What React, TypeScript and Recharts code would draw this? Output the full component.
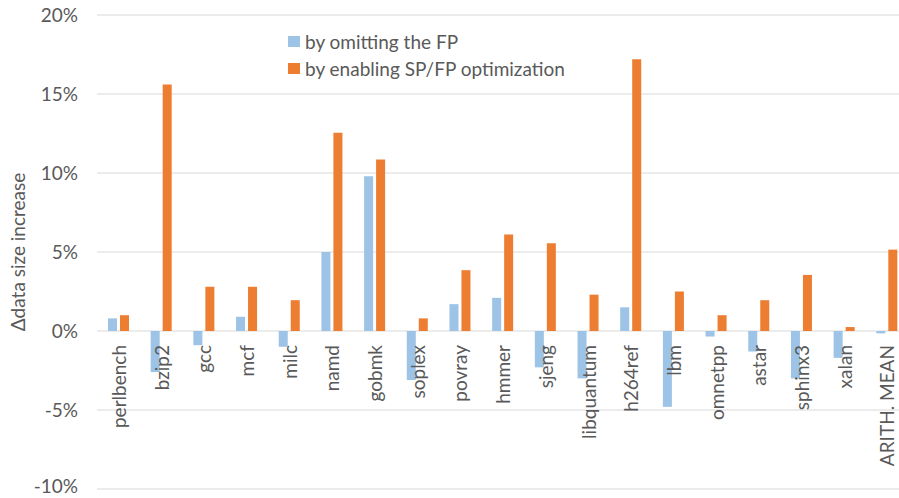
import React from 'react'
import { BarChart, Bar, XAxis, YAxis, CartesianGrid } from 'recharts'

const benchmarks = [
  'perlbench', 'bzip2', 'gcc', 'mcf', 'milc', 'namd', 'gobmk', 'soplex', 'povray', 'hmmer',
  'sjeng', 'libquantum', 'h264ref', 'lbm', 'omnetpp', 'astar', 'sphinx3', 'xalan', 'ARITH. MEAN'
]
const omitFp = [
  0.8, -2.6, -0.9, 0.9, -1.0, 5.0, 9.8, -3.1, 1.7, 2.1,
  -2.3, -3.0, 1.5, -4.8, -0.35, -1.3, -3.0, -1.7, -0.15
]
const spFpOpt = [
  1.0, 15.6, 2.8, 2.8, 1.95, 12.55, 10.85, 0.8, 3.85, 6.1,
  5.55, 2.3, 17.2, 2.5, 1.0, 1.95, 3.55, 0.25, 5.15
]
const yTicks = [-10, -5, 0, 5, 10, 15, 20]

const seriesNames = ['by omitting the FP', 'by enabling SP/FP optimization']
const BLUE = '#9DC3E6'
const ORANGE = '#ED7D31'
const TEXT = '#595959'
const FONT = 'Lato, "Liberation Sans", sans-serif'

// layout: plot runs from y=15 to y=489 in a 498px tall frame
const TOP = 15
const X_AXIS_H = 30
const CHART_H = 520
const PLOT_H = CHART_H - TOP - 1 - X_AXIS_H
const Y_MIN = -10
const Y_MAX = 20

const data = benchmarks.map((name, i) => ({ name, fp: omitFp[i], spfp: spFpOpt[i] }))

const CategoryTick = (props: any) => {
  const { x, payload } = props
  const zeroY = TOP + (Y_MAX / (Y_MAX - Y_MIN)) * PLOT_H
  const y = zeroY + 14
  return (
    <text
      x={x + 1}
      y={y}
      transform={`rotate(-90, ${x + 1}, ${y})`}
      textAnchor="end"
      dy="0.35em"
      fill={TEXT}
      fontSize={19}
      fontFamily={FONT}
    >
      {payload.value}
    </text>
  )
}

// bottom label sits right at the frame edge, lift it a touch
const PercentTick = (props: any) => {
  const { x, y, payload } = props
  const lift = payload.value === Y_MIN ? -3 : 0
  return (
    <text x={x} y={y + lift} textAnchor="end" dy="0.35em" fill={TEXT} fontSize={19} fontFamily={FONT}>
      {`${payload.value}%`}
    </text>
  )
}

const LegendBox = () => (
  <div style={{ position: 'absolute', left: 288, top: 28, fontFamily: FONT, fontSize: 19, color: TEXT }}>
    {seriesNames.map((n, i) => (
      <div key={n} style={{ display: 'flex', alignItems: 'center', height: 27 }}>
        <span style={{ width: 12, height: 11, background: i === 0 ? BLUE : ORANGE, marginRight: 5, display: 'inline-block' }} />
        <span>{n}</span>
      </div>
    ))}
  </div>
)

export default function App() {
  return (
    <div style={{ position: 'fixed', left: 0, top: 0, width: 899, height: 498, overflow: 'hidden', background: '#fff' }}>
      <BarChart
        width={912}
        height={CHART_H}
        data={data}
        margin={{ top: TOP, right: 4, bottom: 1, left: 0 }}
        barSize={9}
        barGap={3}
      >
        <CartesianGrid vertical={false} stroke="#d9d9d9" />
        <XAxis
          dataKey="name"
          height={X_AXIS_H}
          axisLine={false}
          tickLine={false}
          interval={0}
          tick={<CategoryTick />}
        />
        <YAxis
          width={97}
          domain={[Y_MIN, Y_MAX]}
          ticks={yTicks}
          interval={0}
          axisLine={false}
          tickLine={false}
          tickSize={0}
          tickMargin={19}
          tick={<PercentTick />}
          label={{
            content: () => (
              <text
                x={18}
                y={252}
                transform="rotate(-90, 18, 252)"
                textAnchor="middle"
                dy="0.35em"
                fill={TEXT}
                fontSize={19}
                fontFamily={FONT}
              >
                Δdata size increase
              </text>
            )
          }}
        />
        <Bar dataKey="fp" name={seriesNames[0]} fill={BLUE} isAnimationActive={false} />
        <Bar dataKey="spfp" name={seriesNames[1]} fill={ORANGE} isAnimationActive={false} />
      </BarChart>
      <LegendBox />
    </div>
  )
}
